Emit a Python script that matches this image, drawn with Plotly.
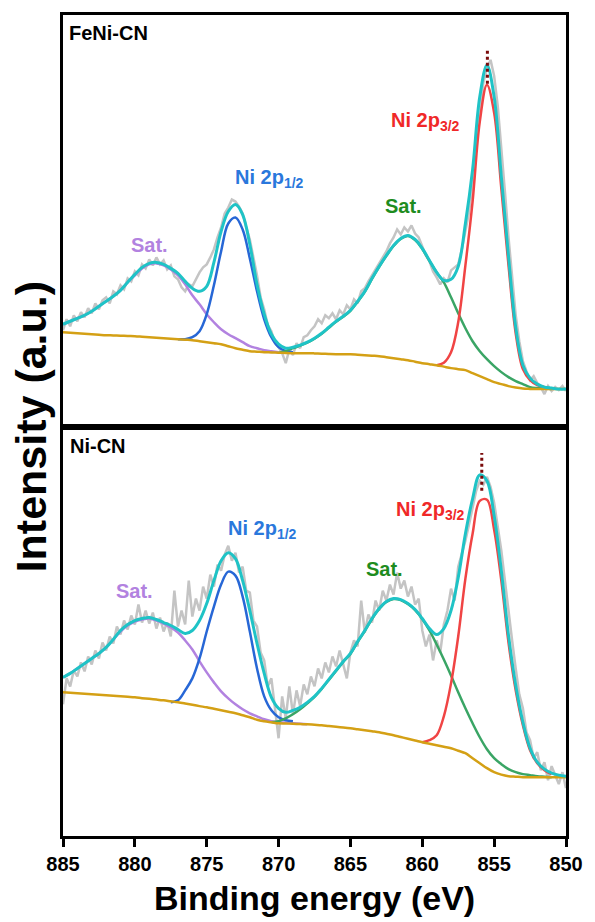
import numpy as np
import plotly.graph_objects as go
from plotly.subplots import make_subplots

# ---------------- data (binding energy in eV, intensity in a.u.) ----------------
RAW_START, RAW_STEP = 885.0, 0.25      # raw spectrum sampling
FIT_STEP = 0.5                          # fitted-curve sampling

tick_values = [885, 880, 875, 870, 865, 860, 855, 850]
tick_labels = ["885", "880", "875", "870", "865", "860", "855", "850"]

# ---- FeNi-CN (top panel) ----
feni_raw = [97, 108, 101, 112, 106, 115, 110, 119, 114, 124, 118, 127, 130, 124, 136, 133,
            142, 138, 149, 146, 156, 152, 163, 159, 168, 162, 170, 163, 167, 158, 162, 151,
            148, 140, 136, 143, 141, 148, 155, 160, 163, 170, 178, 190, 200, 214, 220, 228,
            226, 221, 214, 200, 188, 170, 152, 130, 118, 102, 96, 84, 80, 74, 64, 78,
            72, 84, 79, 90, 92, 97, 101, 108, 104, 112, 109, 114, 108, 117, 113, 122,
            118, 128, 124, 136, 139, 146, 152, 158, 165, 170, 176, 184, 190, 198, 193, 200,
            196, 202, 194, 190, 181, 172, 166, 156, 150, 143, 149, 145, 157, 160, 163, 178,
            196, 215, 245, 282, 318, 345, 360, 368, 352, 322, 281, 236, 190, 152, 112, 86,
            66, 56, 47, 51, 44, 40, 33, 41, 36, 40, 37, 41, 36]
feni_envelope = [103, 106, 109, 112, 116, 121, 126, 131, 137, 145, 153, 160, 164, 165, 163, 159,
                 154, 146, 139, 136, 141, 165, 196, 216, 223, 213, 183, 143, 113, 93, 83, 79,
                 80, 82, 85, 89, 94, 100, 106, 111, 117, 126, 136, 149, 161, 172, 182, 189,
                 192, 188, 179, 167, 155, 147, 148, 161, 204, 258, 331, 363, 331, 251, 171, 100,
                 62, 49, 43, 40, 39, 38, 38]
feni_background = [95, 94.5, 94, 93.5, 93, 92.5, 92, 91.8, 91.5, 91.2, 91, 90.5, 90, 89.5, 89, 88.5,
                   88, 87.5, 87, 86, 85, 84, 83, 81, 79, 77.5, 76, 75.5, 75, 74.8, 74.5, 74.2,
                   74, 74, 74, 73.8, 73.5, 73.2, 73, 73, 73, 72.5, 72, 71.5, 71, 70, 69, 68,
                   67, 65.5, 64, 63, 62, 60.5, 59, 58, 57, 54, 51, 48, 45, 43, 41, 39.5,
                   38.5, 38.2, 38, 38, 38, 38, 38]
feni_sat1_start = 885.0   # Sat. (purple)
feni_sat1 = [103, 106, 109, 112, 116, 121, 126, 131, 137, 145, 152, 159, 163, 164, 162, 158,
             152, 143, 132, 123, 113, 105, 98, 93, 89, 85, 81, 79, 77, 76, 75]
feni_p12_start = 877.0    # Ni 2p1/2 (blue)
feni_p12 = [88, 88, 90, 96, 113, 142, 176, 204, 210, 198, 169, 136, 108, 90, 80, 76, 75]
feni_sat2_start = 870.0   # Sat. (green)
feni_sat2 = [74.5, 76, 79, 81.5, 84.5, 88.5, 93.5, 99.5, 105.5, 110.5, 116.5, 125.5, 135.5, 148.5,
             160.5, 171.5, 181.5, 188.5, 191.5, 187.5, 178.5, 166.5, 155, 145, 130, 114, 99, 86,
             76, 68, 61, 55, 50, 46, 43, 40, 39, 38.5, 38]
feni_p32_start = 859.0    # Ni 2p3/2 (red)
feni_p32 = [62, 64.5, 75, 105, 162, 226, 306, 343, 315, 239, 162, 94, 58, 47, 42, 40]
feni_peak_marker_energy = 855.47
feni_peak_marker_span = [344, 378]

# ---- Ni-CN (bottom panel) ----
ni_raw = [132, 158, 150, 166, 160, 174, 165, 180, 172, 186, 178, 194, 186, 200, 193, 210,
          202, 216, 207, 221, 212, 232, 214, 226, 213, 224, 208, 219, 205, 214, 200, 246,
          210, 226, 212, 256, 220, 238, 226, 250, 238, 262, 250, 272, 266, 282, 291, 276,
          284, 264, 270, 246, 244, 216, 210, 184, 176, 150, 158, 130, 98, 140, 118, 150,
          122, 146, 130, 152, 142, 160, 150, 168, 158, 174, 164, 180, 170, 186, 172, 158,
          184, 196, 190, 236, 204, 222, 214, 236, 226, 246, 236, 252, 242, 264, 248, 256,
          240, 250, 232, 238, 206, 190, 202, 176, 196, 184, 212, 226, 248, 236, 270, 283,
          296, 312, 330, 346, 356, 352, 360, 350, 334, 312, 286, 256, 224, 196, 168, 142,
          128, 104, 96, 78, 84, 66, 74, 56, 70, 60, 52, 64, 48]
ni_envelope = [159, 163, 168, 173, 178, 183, 189, 197, 206, 212, 216, 218, 219, 217, 214, 211,
               207, 203, 206, 216, 233, 256, 276, 284, 278, 256, 226, 193, 163, 139, 128, 124,
               126, 129, 134, 140, 148, 157, 166, 175, 183, 195, 206, 218, 228, 235, 238, 237,
               233, 227, 218, 208, 202, 208, 226, 259, 303, 338, 362, 356, 321, 266, 201, 151,
               114, 88, 74, 67, 63, 61, 60]
ni_background = [144, 143.5, 143, 142.5, 142, 141.5, 141, 140.5, 140, 139.5, 139, 138.2, 137.5, 136.8, 136, 135,
                 134, 132.8, 131.5, 130.2, 129, 127.5, 126, 124.5, 123, 121, 119, 116.5, 115, 114, 113, 112.8,
                 112.5, 112.2, 112, 111.5, 111, 110.2, 109.5, 108.8, 108, 107, 106, 105, 104, 102.5, 101, 99.2,
                 97.5, 95.8, 94, 92.5, 91, 89.5, 88, 85.5, 83, 78, 73, 68, 64, 61.5, 60, 59.5,
                 59, 59, 59, 59, 59, 59, 59]
ni_sat1_start = 885.0
ni_sat1 = [159, 163, 168, 173, 178, 183, 189, 197, 205, 211, 215, 217, 218, 216, 213, 209,
           204, 196, 187, 175, 164, 154, 145, 138, 132, 127, 123, 120, 117, 115, 114, 113.5,
           113, 112.5, 112]
ni_p12_start = 877.5
ni_p12 = [134, 136, 146, 158, 178, 205, 230, 252, 265, 261, 240, 205, 168, 140, 126, 119, 116, 115]
ni_sat2_start = 870.5
ni_sat2 = [114, 115, 118, 122, 127, 133, 139.5, 147.5, 156.5, 165.5, 174.5, 182.5, 194.5, 205.5,
           217.5, 227.5, 234.5, 237.5, 236.5, 232.5, 226.5, 217.5, 206, 192, 177, 161, 144, 128,
           113, 99, 87, 78, 72, 67, 64, 62, 61, 60, 59.5, 59]
ni_p32_start = 860.0
ni_p32 = [94, 96, 101, 120, 153, 200, 258, 303, 336, 337, 307, 256, 194, 146, 111, 86, 73, 66, 62]
ni_peak_marker_energy = 855.86
ni_peak_marker_span = [346, 384]

# ---------------- styling ----------------
C_RAW = "#c4c4c4"
C_ENV = "#1fc3c6"
C_BG = "#d4a015"
C_P32 = "#f04444"
C_SAT2 = "#3aa565"
C_P12 = "#2767d6"
C_SAT1 = "#b282e0"
C_MARK = "#7a0a0a"
FONT = "Liberation Sans, Arial, sans-serif"

W, H = 595, 922
PL, PR, PT, PB = 63, 572, 13, 836   # plot area in pixels
MID = 426                            # panel divider (pixels)


def grid(start, step, n):
    return [start - step * i for i in range(n)]


def px2x(px):
    return (px - PL) / (PR - PL)


def py2y(py):
    return (PB - py) / (PB - PT)


fig = make_subplots(rows=2, cols=1, vertical_spacing=0)

panels = [
    (1, feni_raw, feni_envelope, feni_background,
     [(feni_sat1_start, feni_sat1, C_SAT1), (feni_p12_start, feni_p12, C_P12),
      (feni_sat2_start, feni_sat2, C_SAT2), (feni_p32_start, feni_p32, C_P32)],
     feni_peak_marker_energy, feni_peak_marker_span),
    (2, ni_raw, ni_envelope, ni_background,
     [(ni_sat1_start, ni_sat1, C_SAT1), (ni_p12_start, ni_p12, C_P12),
      (ni_sat2_start, ni_sat2, C_SAT2), (ni_p32_start, ni_p32, C_P32)],
     ni_peak_marker_energy, ni_peak_marker_span),
]

for row, raw, env, bg, comps, mark_e, mark_span in panels:
    fig.add_trace(go.Scatter(x=grid(RAW_START, RAW_STEP, len(raw)), y=raw, mode="lines",
                             line=dict(color=C_RAW, width=2.5), hoverinfo="skip",
                             showlegend=False), row=row, col=1)
    for start, vals, col in comps:
        fig.add_trace(go.Scatter(x=grid(start, FIT_STEP, len(vals)), y=vals, mode="lines",
                                 line=dict(color=col, width=2.5, shape="spline"),
                                 showlegend=False), row=row, col=1)
    fig.add_trace(go.Scatter(x=grid(RAW_START, FIT_STEP, len(bg)), y=bg, mode="lines",
                             line=dict(color=C_BG, width=2.5, shape="spline"),
                             showlegend=False), row=row, col=1)
    fig.add_trace(go.Scatter(x=grid(RAW_START, FIT_STEP, len(env)), y=env, mode="lines",
                             line=dict(color=C_ENV, width=3, shape="spline"),
                             showlegend=False), row=row, col=1)
    fig.add_trace(go.Scatter(x=[mark_e, mark_e], y=mark_span, mode="lines",
                             line=dict(color=C_MARK, width=3, dash="dot"),
                             showlegend=False), row=row, col=1)

mid_frac = py2y(MID)
axis_common = dict(range=[885, 850], showgrid=False, zeroline=False, showline=True,
                   linecolor="black", linewidth=3, mirror=True)
fig.update_layout(
    xaxis=dict(**axis_common, ticks="", showticklabels=False, anchor="y"),
    xaxis2=dict(**axis_common, ticks="outside", ticklen=8, tickwidth=2.5, tickcolor="black",
                tickvals=tick_values, ticktext=tick_labels,
                tickfont=dict(family=FONT, size=20, color="black", weight=700), anchor="y2"),
    yaxis=dict(range=[0, MID - PT], domain=[mid_frac, 1], showgrid=False, zeroline=False,
               showline=True, linecolor="black", linewidth=3, mirror=True,
               ticks="", showticklabels=False),
    yaxis2=dict(range=[0, PB - MID], domain=[0, mid_frac], showgrid=False, zeroline=False,
                showline=True, linecolor="black", linewidth=3, mirror=True,
                ticks="", showticklabels=False),
    width=W, height=H,
    margin=dict(l=PL, r=W - PR, t=PT, b=H - PB, pad=0),
    plot_bgcolor="white", paper_bgcolor="white",
)

labels = [
    ("FeNi-CN", 67, 31, "black"),
    ("Ni 2p<sub>1/2</sub>", 235, 177, "#2a78dc"),
    ("Sat.", 130, 244, C_SAT1),
    ("Sat.", 387, 204, "#1e8c1e"),
    ("Ni 2p<sub>3/2</sub>", 393, 120, "#f02828"),
    ("Ni-CN", 68, 445, "black"),
    ("Ni 2p<sub>1/2</sub>", 228, 529, "#2a78dc"),
    ("Sat.", 115, 590, C_SAT1),
    ("Sat.", 368, 568, "#1e8c1e"),
    ("Ni 2p<sub>3/2</sub>", 398, 510, "#f02828"),
]
for text, px, py, col in labels:
    fig.add_annotation(text=f"<b>{text}</b>", x=px2x(px), y=py2y(py), xref="paper", yref="paper",
                       xanchor="left", yanchor="middle", showarrow=False,
                       font=dict(family=FONT, size=20, color=col))

fig.add_annotation(text="<b>Binding energy (eV)</b>", x=px2x(317.5), y=py2y(898),
                   xref="paper", yref="paper", xanchor="center", yanchor="middle",
                   showarrow=False, font=dict(family=FONT, size=34, color="black"))
fig.add_annotation(text="<b>Intensity (a.u.)</b>", x=px2x(31), y=py2y(426), textangle=-90,
                   xref="paper", yref="paper", xanchor="center", yanchor="middle",
                   showarrow=False, font=dict(family=FONT, size=43, color="black"))

fig.write_html("out.html")
